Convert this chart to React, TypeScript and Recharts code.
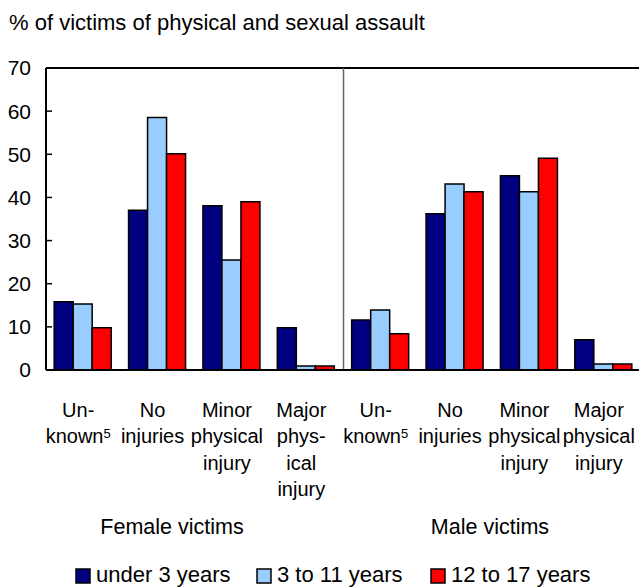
import { Bar, BarChart, ReferenceLine, XAxis, YAxis } from 'recharts'

const FONT = "'Liberation Sans', Arial, sans-serif"

// categories: female first, then male
const categoryKeys = ['f-unknown', 'f-none', 'f-minor', 'f-major', 'm-unknown', 'm-none', 'm-minor', 'm-major']
const categoryLines: string[][] = [
  ['Un-', 'known'],
  ['No', 'injuries'],
  ['Minor', 'physical', 'injury'],
  ['Major', 'phys-', 'ical', 'injury'],
  ['Un-', 'known'],
  ['No', 'injuries'],
  ['Minor', 'physical', 'injury'],
  ['Major', 'physical', 'injury'],
]
// footnote marker appended to the "known" line
const footnoteKeys = ['f-unknown', 'm-unknown']

const under3 = [15.8, 37.0, 38.1, 9.8, 11.6, 36.2, 45.0, 7.0]
const age3to11 = [15.3, 58.5, 25.5, 0.9, 13.9, 43.1, 41.3, 1.4]
const age12to17 = [9.8, 50.1, 39.0, 0.9, 8.4, 41.3, 49.1, 1.4]

const seriesNames = ['under 3 years', '3 to 11 years', '12 to 17 years']
const seriesColors = ['#000080', '#99ccff', '#ff0000']
const yTicks = [0, 10, 20, 30, 40, 50, 60, 70]
const groupLabels = ['Female victims', 'Male victims']

const data = categoryKeys.map((key, i) => ({
  key,
  under3: under3[i],
  age3to11: age3to11[i],
  age12to17: age12to17[i],
}))
const seriesKeys = ['under3', 'age3to11', 'age12to17']

function CategoryTick(props: any) {
  const { x, y, payload, index } = props
  const lines = categoryLines[index] || []
  const cx = x - 5
  return (
    <g>
      {lines.map((line, i) => (
        <text
          key={i}
          x={cx}
          y={y + 39 + i * 26.3}
          textAnchor="middle"
          fontFamily={FONT}
          fontSize={20}
          fill="#000"
        >
          {line}
          {i === 1 && footnoteKeys.includes(payload.value) ? (
            <tspan fontSize={13} dy={-5}>5</tspan>
          ) : null}
        </text>
      ))}
    </g>
  )
}

export default function App() {
  return (
    <div style={{ position: 'absolute', left: 0, top: 0, width: 639, height: 587, overflow: 'hidden', background: '#fff' }}>
      <BarChart
        width={645}
        height={587}
        data={data}
        margin={{ top: 68, right: 4, bottom: 0, left: 0 }}
        barCategoryGap="11%"
        barGap={0}
      >
        <XAxis
          dataKey="key"
          interval={0}
          tickLine={false}
          axisLine={{ stroke: '#000', strokeWidth: 2 }}
          height={217}
          tick={<CategoryTick />}
        />
        <YAxis
          domain={[0, 70]}
          ticks={yTicks}
          width={46}
          tickSize={-6}
          tickMargin={21}
          tickLine={{ stroke: '#000', strokeWidth: 1.5 }}
          axisLine={{ stroke: '#000', strokeWidth: 2 }}
          tick={{ fill: '#000', fontSize: 21, fontFamily: FONT }}
        />
        <ReferenceLine y={70} stroke="#000" strokeWidth={2} />
        <ReferenceLine x="f-major" position="end" stroke="#666" strokeWidth={1.5} />
        {seriesKeys.map((k, i) => (
          <Bar
            key={k}
            dataKey={k}
            name={seriesNames[i]}
            fill={seriesColors[i]}
            stroke="#000"
            strokeWidth={1.5}
            isAnimationActive={false}
          />
        ))}
      </BarChart>
      <svg width={639} height={587} style={{ position: 'absolute', left: 0, top: 0, pointerEvents: 'none' }}>
        <text x={9} y={30} fontFamily={FONT} fontSize={22} fill="#000">
          % of victims of physical and sexual assault
        </text>
        <text x={172} y={534} textAnchor="middle" fontFamily={FONT} fontSize={21.5} fill="#000">
          {groupLabels[0]}
        </text>
        <text x={490} y={534} textAnchor="middle" fontFamily={FONT} fontSize={21.5} fill="#000">
          {groupLabels[1]}
        </text>
        {seriesNames.map((name, i) => {
          const lx = [76, 257, 431][i]
          return (
            <g key={name}>
              <rect x={lx} y={569} width={14} height={14} fill={seriesColors[i]} stroke="#000" strokeWidth={1.5} />
              <text x={lx + 20} y={582} fontFamily={FONT} fontSize={22} fill="#000">
                {name}
              </text>
            </g>
          )
        })}
      </svg>
    </div>
  )
}
